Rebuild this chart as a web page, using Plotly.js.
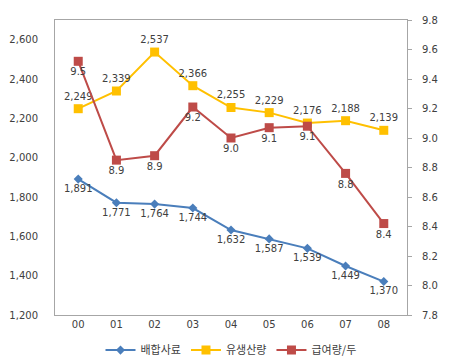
<!DOCTYPE html>
<html><head><meta charset="utf-8">
<script src="https://cdn.plot.ly/plotly-3.0.1.min.js"></script>
<style>html,body{margin:0;padding:0;background:#fff}#c{width:450px;height:358px}</style>
</head><body><div id="c"></div>
<script>
const years = ["00","01","02","03","04","05","06","07","08"];
const feed = [1891,1771,1764,1744,1632,1587,1539,1449,1370];
const milk = [2249,2339,2537,2366,2255,2229,2176,2188,2139];
const perHead = [9.52,8.85,8.88,9.21,9.0,9.07,9.08,8.76,8.42];
const perHeadLabels = ["9.5","8.9","8.9","9.2","9.0","9.1","9.1","8.8","8.4"];
const names = ["배합사료","유생산량","급여량/두"];
const fnt = {family:"DejaVu Sans, 'Noto Sans CJK KR'", size:10, color:"#404040"};
const traces = [
 {x:years,y:feed,name:names[0],type:"scatter",mode:"lines+markers+text",
  line:{color:"#4a7ebb",width:2},marker:{symbol:"diamond",size:7,color:"#4a7ebb"},
  text:feed.map(v=>v.toLocaleString("en-US")),textposition:"bottom center",textfont:fnt,cliponaxis:false},
 {x:years,y:milk,name:names[1],type:"scatter",mode:"lines+markers+text",
  line:{color:"#ffc000",width:2},marker:{symbol:"square",size:9,color:"#ffc000"},
  text:milk.map(v=>v.toLocaleString("en-US")),textposition:"top center",textfont:fnt,cliponaxis:false},
 {x:years,y:perHead,name:names[2],type:"scatter",mode:"lines+markers+text",yaxis:"y2",
  line:{color:"#be4b48",width:2},marker:{symbol:"square",size:9,color:"#be4b48"},
  text:perHeadLabels,textposition:"bottom center",textfont:fnt,cliponaxis:false}
];
const layout = {
 width:450,height:358,margin:{l:55,r:43,t:20,b:43,autoexpand:false},
 paper_bgcolor:"#fff",plot_bgcolor:"#fff",
 font:{family:"DejaVu Sans, 'Noto Sans CJK KR'",size:10,color:"#404040"},
 showlegend:true,
 legend:{orientation:"h",x:0.5,xanchor:"center",y:-0.119,yanchor:"middle",
   font:{family:"'Noto Sans CJK KR'",size:11,color:"#404040"}},
 xaxis:{type:"category",showgrid:false,zeroline:false,showline:true,linecolor:"#a6a6a6",linewidth:1,mirror:true,
   ticks:"",tickfont:fnt},
 yaxis:{range:[1200,2700],tickvals:[1200,1400,1600,1800,2000,2200,2400,2600],tickformat:",",
   showgrid:false,zeroline:false,showline:true,linecolor:"#a6a6a6",ticks:"",ticklabelstandoff:14,tickfont:fnt},
 yaxis2:{overlaying:"y",side:"right",range:[7.8,9.8],dtick:0.2,tickformat:".1f",
   showgrid:false,zeroline:false,showline:true,linecolor:"#a6a6a6",ticks:"outside",ticklen:4,tickcolor:"#a6a6a6",
   ticklabelstandoff:8,tickfont:fnt}
};
Plotly.newPlot("c",traces,layout,{displayModeBar:false});
</script></body></html>
